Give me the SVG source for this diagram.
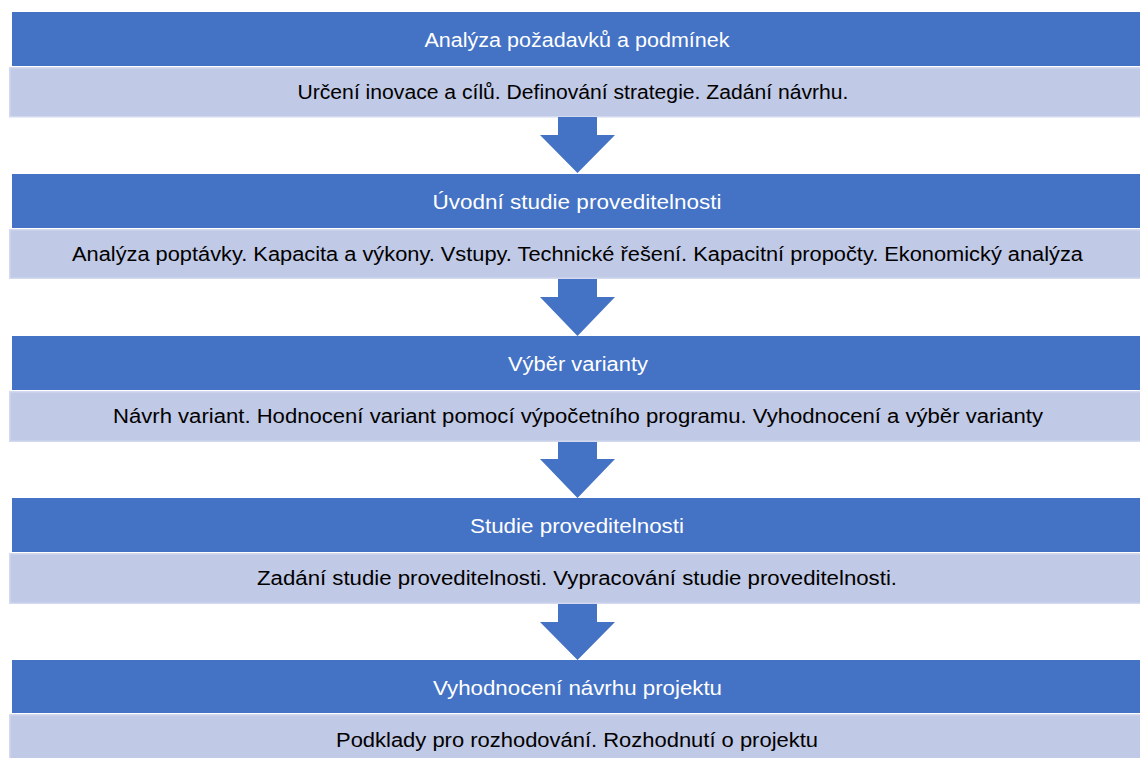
<svg xmlns="http://www.w3.org/2000/svg" width="1140" height="758" viewBox="0 0 1140 758">
<style>
.hd{fill:#4472C4}
.lt{fill:#C0C9E5;stroke:#D3D9EE;stroke-width:1.5}
.ht{font-family:"Liberation Sans",Arial,sans-serif;font-size:20px;fill:#FFFFFF;text-anchor:middle}
.bt{font-family:"Liberation Sans",Arial,sans-serif;font-size:20px;fill:#000000;text-anchor:middle}
.ar{fill:#4472C4}
</style>
<rect width="1140" height="758" fill="#FFFFFF"/>
<g id="step1">
<rect class="hd" x="12" y="12" width="1140" height="54"/>
<rect class="lt" x="9.75" y="67.75" width="1140" height="49"/>
<text class="ht" x="577" y="47" textLength="305" lengthAdjust="spacingAndGlyphs">Analýza požadavků a podmínek</text>
<text class="bt" x="573" y="99" textLength="551" lengthAdjust="spacingAndGlyphs">Určení inovace a cílů. Definování strategie. Zadání návrhu.</text>
</g>
<g id="step2">
<rect class="hd" x="12" y="174" width="1140" height="54"/>
<rect class="lt" x="9.75" y="229.75" width="1140" height="48.5"/>
<text class="ht" x="577" y="209" textLength="289" lengthAdjust="spacingAndGlyphs">Úvodní studie proveditelnosti</text>
<text class="bt" x="577.5" y="261" textLength="1011" lengthAdjust="spacingAndGlyphs">Analýza poptávky. Kapacita a výkony. Vstupy. Technické řešení. Kapacitní propočty. Ekonomický analýza</text>
</g>
<g id="step3">
<rect class="hd" x="12" y="336" width="1140" height="54"/>
<rect class="lt" x="9.75" y="391.75" width="1140" height="49.5"/>
<text class="ht" x="578" y="371" textLength="140" lengthAdjust="spacingAndGlyphs">Výběr varianty</text>
<text class="bt" x="578" y="423" textLength="930" lengthAdjust="spacingAndGlyphs">Návrh variant. Hodnocení variant pomocí výpočetního programu. Vyhodnocení a výběr varianty</text>
</g>
<g id="step4">
<rect class="hd" x="12" y="498" width="1140" height="54"/>
<rect class="lt" x="9.75" y="553.75" width="1140" height="49.5"/>
<text class="ht" x="577" y="533" textLength="214" lengthAdjust="spacingAndGlyphs">Studie proveditelnosti</text>
<text class="bt" x="577" y="585" textLength="640" lengthAdjust="spacingAndGlyphs">Zadání studie proveditelnosti. Vypracování studie proveditelnosti.</text>
</g>
<g id="step5">
<rect class="hd" x="12" y="660" width="1140" height="53"/>
<rect class="lt" x="9.75" y="714.75" width="1140" height="50"/>
<text class="ht" x="577.5" y="695" textLength="289" lengthAdjust="spacingAndGlyphs">Vyhodnocení návrhu projektu</text>
<text class="bt" x="577" y="747" textLength="482" lengthAdjust="spacingAndGlyphs">Podklady pro rozhodování. Rozhodnutí o projektu</text>
</g>
<g id="connectors">
<polygon class="ar" points="558,117 597,117 597,135 615,135 577.5,173 540,135 558,135"/>
<polygon class="ar" points="558,279 597,279 597,297 615,297 577.5,336 540,297 558,297"/>
<polygon class="ar" points="558,442 597,442 597,459 615,459 577.5,498 540,459 558,459"/>
<polygon class="ar" points="558,604 597,604 597,622 615,622 577.5,660 540,622 558,622"/>
</g>
</svg>
